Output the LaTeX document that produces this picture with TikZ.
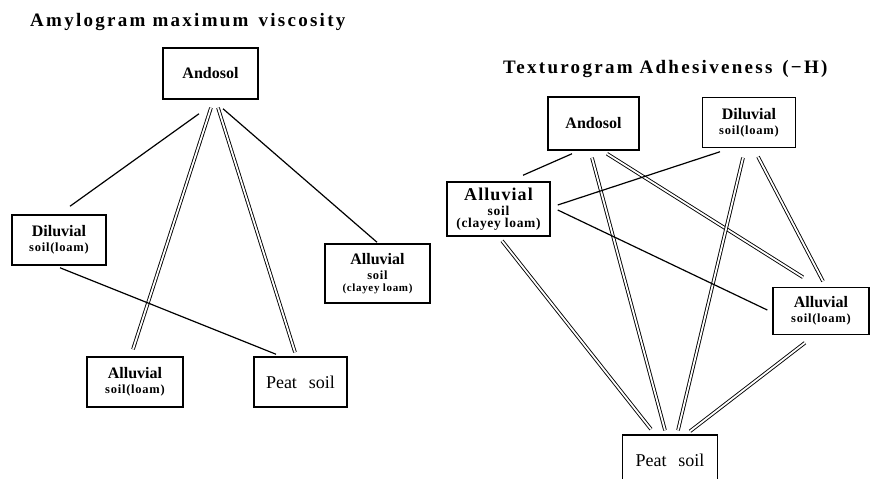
\documentclass[tikz,border=0pt]{standalone}
\usepackage{fontspec}
\setmainfont{Liberation Serif}
\newfontfamily\ttlfont[LetterSpace=12]{Liberation Serif}
\usetikzlibrary{calc}
\tikzset{
  box/.style={draw, line width=1.5pt, inner sep=0pt, align=center,
    font=\bfseries\fontsize{16}{15}\selectfont},
  peat/.style={box, font=\fontsize{18}{18}\selectfont},
  single/.style={line width=1.2pt},
  dbl/.style={double, line width=0.9pt, double distance=1.8pt},
  ttl/.style={anchor=base west, inner sep=0pt, font=\ttlfont\bfseries\fontsize{19}{19}\selectfont},
}
\newcommand{\smtxt}[1]{{\fontsize{12.5}{13}\selectfont\addfontfeature{LetterSpace=6}#1}}
\newcommand{\xstxt}[1]{{\fontsize{11}{12}\selectfont\addfontfeature{LetterSpace=6}#1}}
\newcommand{\rctxt}[1]{{\fontsize{13.5}{13}\selectfont\addfontfeature{LetterSpace=5}#1}}
\begin{document}
\begin{tikzpicture}[x=1pt,y=-1pt]
\useasboundingbox (0,0) rectangle (870,479);
\clip (0,0) rectangle (870,479);
% ---------- left panel ----------
\node[ttl] (t1) at (30,27) {Amylogram\ maximum\hspace{10pt}viscosity};
\node[box, minimum width=95pt, minimum height=51pt] (LA) at (210.5,73.5) {Andosol};
\node[box, minimum width=94pt, minimum height=50pt] (LD) at (59,240) {Diluvial\\\smtxt{soil(loam)}};
\node[box, minimum width=105pt, minimum height=59pt] (LC) at (377.5,273.5) {Alluvial\\\smtxt{soil}\\[-3pt]\xstxt{(clayey\ loam)}};
\node[box, minimum width=96pt, minimum height=50pt] (LAl) at (135,382) {Alluvial\\\smtxt{soil(loam)}};
\node[peat, minimum width=93pt, minimum height=50pt] (LP) at (300.5,382) {Peat\hspace{12pt}soil};

\draw[single] ($(LA.south)+(-11.5,14)$) -- ($(LD.north)+(11,-8)$);
\draw[dbl] ($(LA.south)+(0.5,8)$) -- ($(LAl.north)+(-2,-7)$);
\draw[dbl] ($(LA.south)+(7.5,8)$) -- ($(LP.north)+(-5.5,-4)$);
\draw[single] ($(LA.south)+(12.5,9)$) -- ($(LC.north)+(-0.5,-1)$);
\draw[single] ($(LD.south)+(1,2)$) -- ($(LP.north)+(-24.5,-2)$);

% ---------- right panel ----------
\node[ttl] (t2) at (503,73) {Texturogram\ Adhesiveness\hspace{10pt}(−H)};
\node[box, minimum width=91pt, minimum height=53pt] (RA) at (593.5,123.5) {Andosol};
\node[box, minimum width=93pt, minimum height=50pt] (RD) at (749,122.5) {Diluvial\\\smtxt{soil(loam)}};
\node[box, minimum width=103pt, minimum height=54pt, font=\bfseries\fontsize{18}{15}\selectfont\addfontfeature{LetterSpace=6}] (RC) at (498.5,209)
  {Alluvial\\\rctxt{soil}\\[-3pt]\rctxt{(clayey\ loam)}};
\node[box, minimum width=96pt, minimum height=47pt] (RL) at (821,311) {Alluvial\\\smtxt{soil(loam)}};
\node[peat, minimum width=95pt, minimum height=50pt] (RP) at (670,460) {Peat\hspace{12pt}soil};

\draw[single] ($(RA.south)+(-21.5,3)$) -- ($(RC.north)+(24.5,-6)$);
\draw[dbl] ($(RA.south)+(-1.5,7)$) -- ($(RP.north)+(-5,-4)$);
\draw[dbl] ($(RA.south)+(13.5,3)$) -- ($(RL.north)+(-18,-9.5)$);
\draw[single] ($(RD.south)+(-29,3.5)$) -- ($(RC.east)+(7,-4)$);
\draw[dbl] ($(RD.south)+(-6,9.5)$) -- ($(RP.north)+(8,-4)$);
\draw[dbl] ($(RD.south)+(9,8.5)$) -- ($(RL.north)+(2,-5.5)$);
\draw[single] ($(RC.east)+(7,1)$) -- ($(RL.west)+(-5,-1)$);
\draw[dbl] ($(RC.south)+(3.5,4)$) -- ($(RP.north)+(-19,-5)$);
\draw[dbl] ($(RL.south)+(-16,7.5)$) -- ($(RP.north)+(20,-3)$);
\end{tikzpicture}
\end{document}
